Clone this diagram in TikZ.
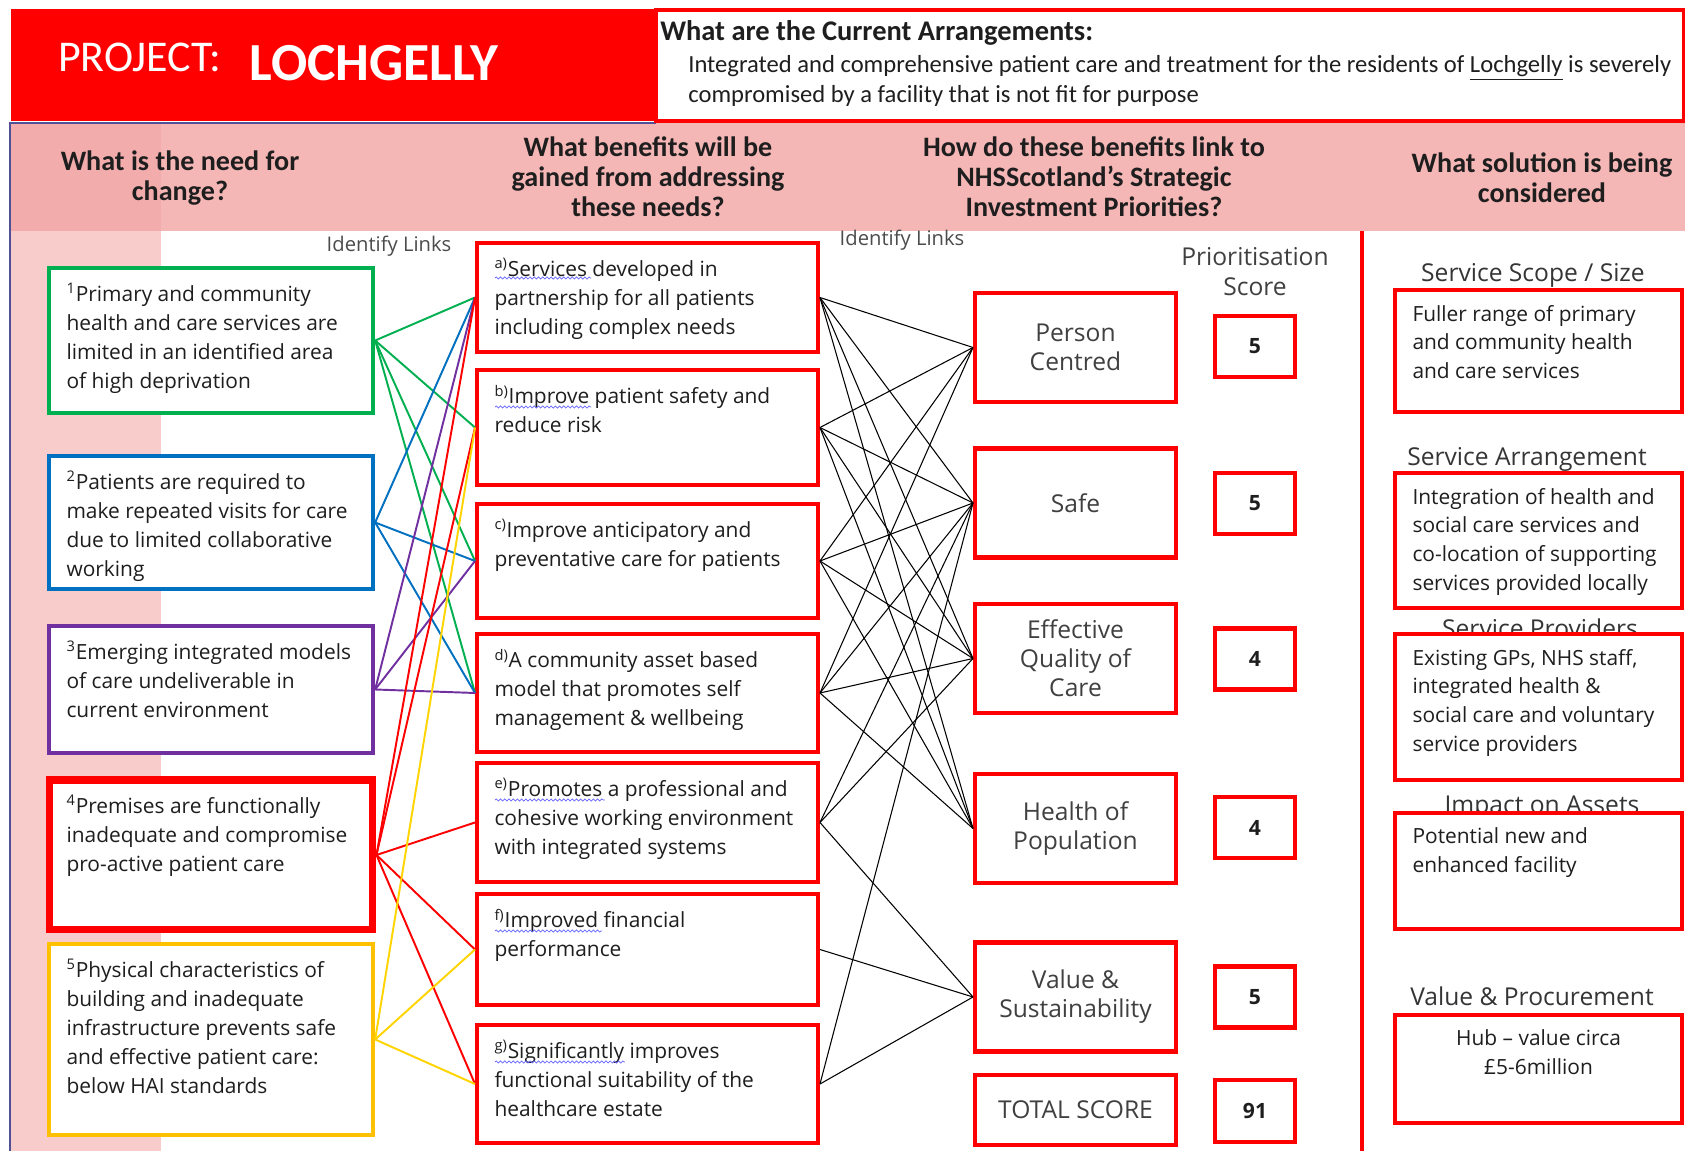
\documentclass[tikz,border=0pt]{standalone}
\usepackage{fontspec}
\setmainfont{Open Sans}
\newfontfamily\calibri{Carlito}
\usepackage{xcolor}
\usepackage{tikz}
\usetikzlibrary{decorations.pathmorphing}

\definecolor{needgreen}{RGB}{0,176,80}
\definecolor{needblue}{RGB}{0,112,192}
\definecolor{needpurple}{RGB}{112,48,160}
\definecolor{needred}{RGB}{255,0,0}
\definecolor{needgold}{RGB}{255,192,0}
\definecolor{linkyellow}{RGB}{255,212,0}
\definecolor{bandpink}{RGB}{245,182,182}
\definecolor{bandpinkdark}{RGB}{242,172,172}
\definecolor{strippink}{RGB}{249,204,204}
\definecolor{edgeblue}{RGB}{80,80,150}
\definecolor{inktext}{RGB}{30,30,30}

% one pixel of the layout grid
\newlength{\pxu}
\setlength{\pxu}{0.2mm}
\newcommand{\boxcell}[3]{\parbox[t][\dimexpr#2\pxu-6mm\relax][t]{\dimexpr#1\pxu-7mm\relax}{\raggedright#3}}
\newcommand{\boxcellc}[3]{\parbox[t][\dimexpr#2\pxu-6mm\relax][t]{\dimexpr#1\pxu-7mm\relax}{\centering#3}}

\begin{document}
\begin{tikzpicture}[x=0.02cm, y=-0.02cm,
        needbox/.style={draw=#1, line width=2.5pt, fill=white, inner xsep=3.5mm, inner ysep=3mm, font=\fontsize{11.9}{16.5}\selectfont, text=inktext},
        benbox/.style={draw=needred, line width=2.3pt, fill=white, inner xsep=3.5mm, inner ysep=3mm, font=\fontsize{11.9}{16.5}\selectfont, text=inktext},
        priobox/.style={draw=needred, line width=2.3pt, fill=white, minimum width=40.2mm, minimum height=21.8mm, align=center, font=\fontsize{14}{16.5}\selectfont, text=inktext!85},
        scorebox/.style={draw=needred, line width=2.3pt, fill=white, minimum width=16mm, minimum height=12.2mm, font=\bfseries\fontsize{12}{14}\selectfont, text=inktext},
        solbox/.style={draw=needred, line width=2pt, fill=white, inner xsep=3.5mm, inner ysep=3mm, font=\fontsize{11.9}{16.5}\selectfont, text=inktext},
        soltitle/.style={font=\fontsize{14}{16}\selectfont, text=inktext!90},
        colhead/.style={align=center, font=\calibri\bfseries\fontsize{16}{17}\selectfont, text=inktext},
        linknote/.style={font=\fontsize{11.5}{13}\selectfont, text=black!70},
        needlink/.style={line width=1.1pt},
        prilink/.style={line width=0.6pt, draw=black},
        squiggle/.style={draw=blue!60, line width=0.4pt, decorate, decoration={snake, amplitude=0.6pt, segment length=2.4pt}}
    ]
    \useasboundingbox (0,0) rectangle (1685,1151);
    \fill[white] (0,0) rectangle (1685,1151);

    % --- Background bands ---
    \fill[bandpink] (11,123) rectangle (1685,231);
    \fill[bandpinkdark] (11,123) rectangle (161,231);
    \fill[strippink] (11,231) rectangle (161,1151);
    \draw[edgeblue, line width=1.2pt] (656,123) -- (10,123) -- (10,1151);
    \draw[needred, line width=2.3pt] (1362,231) -- (1362,1151);

    % --- Title ---
    \fill[needred] (11,9) rectangle (656,121);
    \node[white, font=\calibri\fontsize{25}{27}\selectfont] (projlbl) at (140,57) {PROJECT:};
    \node[white, font=\calibri\bfseries\fontsize{30.5}{33}\selectfont] (projname) at (374,63) {LOCHGELLY};

    % --- Current arrangements ---
    \draw[needred, line width=2.3pt, fill=white] (656,10) rectangle (1684,121);
    \node[anchor=west, inner sep=0, font=\calibri\bfseries\fontsize{16.2}{18}\selectfont, text=inktext] (curhead) at (660,33) {What are the Current Arrangements:};
    \node[anchor=north west, inner sep=0, align=left, font=\calibri\fontsize{14}{17.4}\selectfont, text=inktext] (curtext) at (688,55) {Integrated and comprehensive patient care and treatment for the residents of \underline{Lochgelly} is severely\\compromised by a facility that is not fit for purpose};

    % --- Column headings ---
    \node[colhead] (hneed) at (180,178) {What is the need for\\change?};
    \node[colhead] (hben) at (648,177) {What benefits will be\\gained from addressing\\these needs?};
    \node[colhead] (hlink) at (1094,177) {How do these benefits link to\\NHSScotland’s Strategic\\Investment Priorities?};
    \node[colhead] (hsol) at (1542,178) {What solution is being\\considered};

    \node[linknote] (links1) at (389,246) {Identify Links};
    \node[linknote] (links2) at (902,240) {Identify Links};

    % --- Needs ---
    \node[needbox=needgreen] (need1) at (211,340.5) {\boxcell{324}{145}{\textsuperscript{1}Primary and community\\health and care services are\\limited in an identified area\\of high deprivation}};
    \node[needbox=needblue] (need2) at (211,522.5) {\boxcell{324}{133}{\textsuperscript{2}Patients are required to\\make repeated visits for care\\due to limited collaborative\\working}};
    \node[needbox=needpurple] (need3) at (211,689.5) {\boxcell{324}{127}{\textsuperscript{3}Emerging integrated models\\of care undeliverable in\\current environment}};
    \node[needbox=needred, line width=4pt] (need4) at (211,855) {\boxcell{324}{150}{\textsuperscript{4}Premises are functionally\\inadequate and compromise\\pro-active patient care}};
    \node[needbox=needgold] (need5) at (211,1039.5) {\boxcell{324}{191}{\textsuperscript{5}Physical characteristics of\\building and inadequate\\infrastructure prevents safe\\and effective patient care:\\below HAI standards}};

    % --- Benefits ---
    \node[benbox] (bena) at (647.5,297.5) {\boxcell{341}{109}{\textsuperscript{a)}Services developed in\\partnership for all patients\\including complex needs}};
    \node[benbox] (benb) at (647.5,427.5) {\boxcell{341}{115}{\textsuperscript{b)}Improve patient safety and\\reduce risk}};
    \node[benbox] (benc) at (647.5,561) {\boxcell{341}{114}{\textsuperscript{c)}Improve anticipatory and\\preventative care for patients}};
    \node[benbox] (bend) at (647.5,693) {\boxcell{341}{118}{\textsuperscript{d)}A community asset based\\model that promotes self\\management \& wellbeing}};
    \node[benbox] (bene) at (647.5,822.5) {\boxcell{341}{119}{\textsuperscript{e)}Promotes a professional and\\cohesive working environment\\with integrated systems}};
    \node[benbox] (benf) at (647.5,949.5) {\boxcell{341}{111}{\textsuperscript{f)}Improved financial\\performance}};
    \node[benbox] (beng) at (647.5,1084) {\boxcell{341}{118}{\textsuperscript{g)}Significantly improves\\functional suitability of the\\healthcare estate}};

    % spelling squiggles
    \draw[squiggle] ([shift={(20,37)}]bena.north west) -- ++(96,0);
    \draw[squiggle] ([shift={(20,39)}]benb.north west) -- ++(96,0);
    \draw[squiggle] ([shift={(20,39)}]bene.north west) -- ++(110,0);
    \draw[squiggle] ([shift={(20,39)}]benf.north west) -- ++(107,0);
    \draw[squiggle] ([shift={(20,39)}]beng.north west) -- ++(130,0);

    % --- Investment priorities ---
    \node[font=\fontsize{14}{17}\selectfont, align=center, text=inktext!85] (prihead) at (1255,272) {Prioritisation\\Score};
    \node[priobox] (prpc) at (1075.5,347.5) {Person\\Centred};
    \node[priobox] (prsafe) at (1075.5,503) {Safe};
    \node[priobox] (preff) at (1075.5,658.5) {Effective\\Quality of\\Care};
    \node[priobox] (prhop) at (1075.5,828.5) {Health of\\Population};
    \node[priobox] (prvs) at (1075.5,997) {Value \&\\Sustainability};
    \node[priobox, minimum height=14mm] (prtotal) at (1075.5,1110) {TOTAL SCORE};

    \node[scorebox] (sc1) at (1255,346.5) {5};
    \node[scorebox] (sc2) at (1255,503.5) {5};
    \node[scorebox] (sc3) at (1255,659) {4};
    \node[scorebox] (sc4) at (1255,827.5) {4};
    \node[scorebox] (sc5) at (1255,997) {5};
    \node[scorebox, minimum height=12.4mm] (sctotal) at (1255,1111) {91};

    % --- Solution ---
    \node[soltitle] (tscope) at (1533,275) {Service Scope / Size};
    \node[solbox] (solscope) at (1538.5,351) {\boxcell{287}{122}{Fuller range of primary\\and community health\\and care services}};
    \node[soltitle] (tarr) at (1527,459) {Service Arrangement};
    \node[solbox] (solarr) at (1538.5,540.5) {\boxcell{287}{135}{Integration of health and\\social care services and\\co-location of supporting\\services provided locally}};
    \node[soltitle] (tprov) at (1540,628) {Service Providers};
    \node[solbox] (solprov) at (1538.5,707) {\boxcell{287}{146}{Existing GPs, NHS staff,\\integrated health \&\\social care and voluntary\\service providers}};
    \node[soltitle] (tassets) at (1542,808) {Impact on Assets};
    \node[solbox] (solassets) at (1538.5,871) {\boxcell{287}{116}{Potential new and\\enhanced facility}};
    \node[soltitle] (tvalue) at (1532,996) {Value \& Procurement};
    \node[solbox] (solvalue) at (1538.5,1069) {\boxcellc{287}{108}{Hub – value circa\\£5-6million}};

    % --- Links: needs to benefits ---
    \foreach \n/\b/\c in {need1/bena/needgreen, need1/benb/needgreen, need1/benc/needgreen, need1/bend/needgreen,
                          need2/bena/needblue, need2/benc/needblue, need2/bend/needblue,
                          need3/bena/needpurple, need3/benc/needpurple, need3/bend/needpurple,
                          need4/bena/needred, need4/benb/needred, need4/bene/needred, need4/benf/needred, need4/beng/needred,
                          need5/benb/linkyellow, need5/benf/linkyellow, need5/beng/linkyellow}
        \draw[needlink, draw=\c] (\n.east) -- (\b.west);

    % --- Links: benefits to priorities ---
    \foreach \b/\p in {bena/prpc, bena/prsafe, bena/preff, bena/prhop,
                       benb/prpc, benb/prsafe, benb/preff, benb/prhop,
                       benc/prpc, benc/prsafe, benc/preff, benc/prhop,
                       bend/prpc, bend/prsafe, bend/preff, bend/prhop,
                       bene/prsafe, bene/preff, bene/prvs,
                       benf/prvs,
                       beng/prsafe, beng/prvs}
        \draw[prilink] (\b.east) -- (\p.west);

\end{tikzpicture}
\end{document}
